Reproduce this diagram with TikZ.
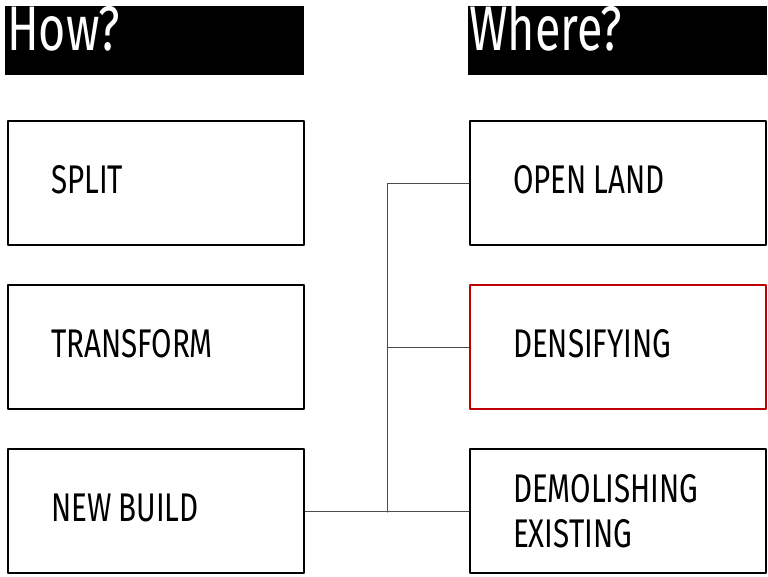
\documentclass[tikz,border=0pt]{standalone}
\usepackage{fontspec}
\setmainfont{Fira Sans}[FakeStretch=0.74]
\usetikzlibrary{positioning}

\newcommand\gap{\hspace{7pt}}

\begin{document}
\begin{tikzpicture}[x=1pt, y=-1pt, line cap=round, line join=round]

% ------------------------------------------------
% Styles
% ------------------------------------------------
\tikzset{
    head/.style={fill=black, draw=none, minimum width=299pt, minimum height=69pt,
        inner sep=0pt, anchor=north west},
    headtxt/.style={text=white, inner sep=0pt, anchor=base west,
        font=\fontsize{63}{63}\selectfont},
    boxbase/.style={draw=black, line width=2pt, minimum width=296pt, minimum height=124pt,
        inner xsep=43pt, text width=210pt, align=left, anchor=north west,
        font=\fontsize{40}{45}\selectfont},
    box/.style={boxbase, text depth=7pt},
    redbox/.style={box, draw=red!75!black},
    link/.style={line width=1pt, black!70},
}

\useasboundingbox (0,0) rectangle (768,576);

% ------------------------------------------------
% Headers
% ------------------------------------------------
\node[head] (how) at (5,6) {};
\node[headtxt] (howtxt) at (7,50) {How?};
\node[head] (where) at (468,6) {};
\node[headtxt] (wheretxt) at (469,50) {Where?};

% ------------------------------------------------
% How? column
% ------------------------------------------------
\node[box] (split)     at (7,120) {SPLIT};
\node[box] (transform) at (7,284) {TRANSFORM};
\node[box] (build)     at (7,448) {NEW\gap BUILD};

% ------------------------------------------------
% Where? column
% ------------------------------------------------
\node[box]     (open)  at (469,120) {OPEN\gap LAND};
\node[redbox]  (dens)  at (469,284) {DENSIFYING};
\node[boxbase] (demol) at (469,448) {DEMOLISHING\\EXISTING};

% ------------------------------------------------
% Connectors
% ------------------------------------------------
\coordinate (spine) at (387,512);
\draw[link] (build.east) -- (demol.west);
\draw[link] (open.west) -| (spine);
\draw[link] (dens.west) -- (dens.west -| spine);

\end{tikzpicture}
\end{document}
